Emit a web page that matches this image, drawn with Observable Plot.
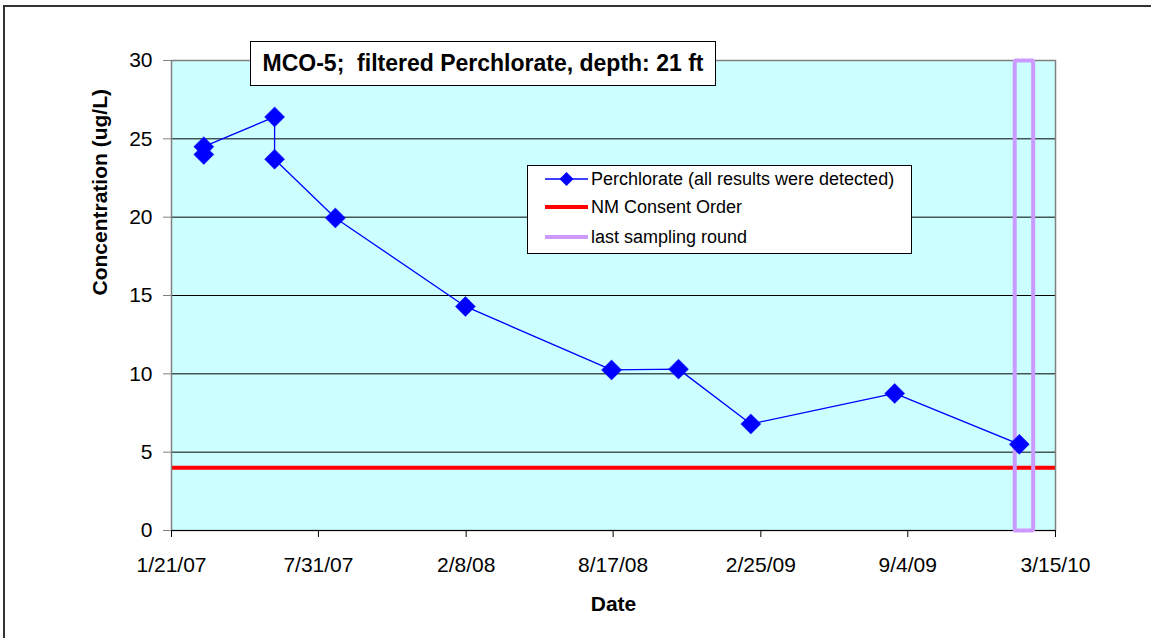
<!DOCTYPE html>
<html>
<head>
<meta charset="utf-8">
<script src="https://cdn.jsdelivr.net/npm/d3@7"></script>
<script src="https://cdn.jsdelivr.net/npm/@observablehq/plot@0.6"></script>
<style>
  html, body { margin: 0; padding: 0; background: #fff; overflow: hidden; }
  #wrap { position: relative; width: 1151px; height: 638px; font-family: Arial, "Liberation Sans", sans-serif; }
  #border { position: absolute; left: 3px; top: 5px; width: 1160px; height: 650px; border: 2px solid #333; box-sizing: border-box; pointer-events: none; }
  #chart { position: absolute; left: 0; top: 0; }
  #title { position: absolute; left: 250px; top: 41px; width: 466px; height: 45px; box-sizing: border-box; border: 1.5px solid #000; background: #fff; font-weight: bold; font-size: 23px; display: flex; align-items: center; justify-content: center; white-space: pre; color: #000; }
  #legend { position: absolute; left: 527px; top: 165px; width: 385px; height: 89px; box-sizing: border-box; border: 1px solid #000; background: #fff; font-size: 18px; color: #000; }
  .row { position: absolute; left: 17px; height: 24px; display: flex; align-items: center; white-space: nowrap; }
  .row svg { margin-right: 3px; }
</style>
</head>
<body>
<div id="wrap">
  <div id="chart"></div>
  <div id="title"></div>
  <div id="legend"></div>
  <div id="border"></div>
</div>
<script>
// ---- data ----
const titleText = "MCO-5;  filtered Perchlorate, depth: 21 ft";
const seriesNames = ["Perchlorate (all results were detected)", "NM Consent Order", "last sampling round"];
const sampleDates = ["2007-03-04", "2007-03-04", "2007-06-04", "2007-06-04", "2007-08-22", "2008-02-07", "2008-08-15", "2008-11-10", "2009-02-12", "2009-08-18", "2010-01-27"];
const perchlorate = [24.0, 24.5, 26.4, 23.7, 19.95, 14.3, 10.25, 10.3, 6.8, 8.75, 5.5];
const consentOrder = 4;
const lastRoundDates = ["2010-01-21", "2010-01-21", "2010-02-14", "2010-02-14", "2010-01-21"];
const lastRoundValues = [0, 30, 30, 0, 0];
const xTickDates = ["2007-01-21", "2007-07-31", "2008-02-08", "2008-08-17", "2009-02-25", "2009-09-04", "2010-03-15"];
const yTicks = [0, 5, 10, 15, 20, 25, 30];
const xLabel = "Date";
const yLabel = "Concentration (ug/L)";

const pts = sampleDates.map((d, i) => ({date: new Date(d + "T00:00:00Z"), value: perchlorate[i]}));
const rectPts = lastRoundDates.map((d, i) => ({date: new Date(d + "T00:00:00Z"), value: lastRoundValues[i]}));
const ticks = xTickDates.map(d => new Date(d + "T00:00:00Z"));
const fmt = d => `${d.getUTCMonth() + 1}/${d.getUTCDate()}/${String(d.getUTCFullYear()).slice(2)}`;

const blue = "#0000FF", red = "#FF0000", purple = "#CC99FF";

const chart = Plot.plot({
  width: 1151,
  height: 638,
  marginLeft: 171,
  marginRight: 96,
  marginTop: 60,
  marginBottom: 108,
  style: {fontFamily: "Arial, 'Liberation Sans', sans-serif", fontSize: "21px", color: "#000", background: "transparent", overflow: "visible"},
  x: {type: "utc", domain: [ticks[0], ticks[ticks.length - 1]]},
  y: {domain: [0, 30]},
  marks: [
    Plot.frame({fill: "#CCFFFF"}),
    Plot.ruleY(yTicks.filter(v => v > 0 && v < 30), {stroke: "#000", strokeWidth: 1}),
    Plot.ruleY([consentOrder], {stroke: red, strokeWidth: 4}),
    Plot.frame({stroke: "#808080", strokeWidth: 1.5}),
    Plot.ruleY([0], {stroke: "#000", strokeWidth: 1}),
    Plot.line(rectPts, {x: "date", y: "value", stroke: purple, strokeWidth: 4, curve: "linear", strokeLinejoin: "miter"}),
    Plot.line(pts, {x: "date", y: "value", stroke: blue, strokeWidth: 1.3}),
    Plot.dot(pts, {x: "date", y: "value", symbol: "diamond2", r: 9, fill: blue, stroke: blue, strokeWidth: 0.5}),
    Plot.axisY({ticks: yTicks, tickSize: 8, tickPadding: 11, fontSize: 21, label: null, stroke: "#808080"}),
    Plot.axisX({ticks: ticks, tickFormat: fmt, tickSize: 7, tickPadding: 20, fontSize: 21, label: null}),
    Plot.text([xLabel], {frameAnchor: "bottom", dy: 80, fontWeight: "bold", fontSize: 21, fill: "#000"}),
    Plot.text([yLabel], {frameAnchor: "left", dx: -71, rotate: -90, fontWeight: "bold", fontSize: 21, fill: "#000"})
  ]
});
document.getElementById("chart").appendChild(chart);

document.getElementById("title").textContent = titleText;

const legend = document.getElementById("legend");
const legendRows = [
  {name: seriesNames[0], svg: `<svg width="43" height="16"><line x1="0" y1="8" x2="43" y2="8" stroke="${blue}" stroke-width="1.3"/><path d="M21.5,1 L28.5,8 L21.5,15 L14.5,8 Z" fill="${blue}"/></svg>`},
  {name: seriesNames[1], svg: `<svg width="43" height="16"><line x1="0" y1="8" x2="43" y2="8" stroke="${red}" stroke-width="4"/></svg>`},
  {name: seriesNames[2], svg: `<svg width="43" height="16"><line x1="0" y1="8" x2="43" y2="8" stroke="${purple}" stroke-width="4"/></svg>`}
];
const rowCenters = [13, 41, 71];
legendRows.forEach((r, i) => {
  const div = document.createElement("div");
  div.className = "row";
  div.style.top = (rowCenters[i] - 12) + "px";
  div.innerHTML = r.svg + `<span></span>`;
  div.querySelector("span").textContent = r.name;
  legend.appendChild(div);
});
</script>
</body>
</html>
